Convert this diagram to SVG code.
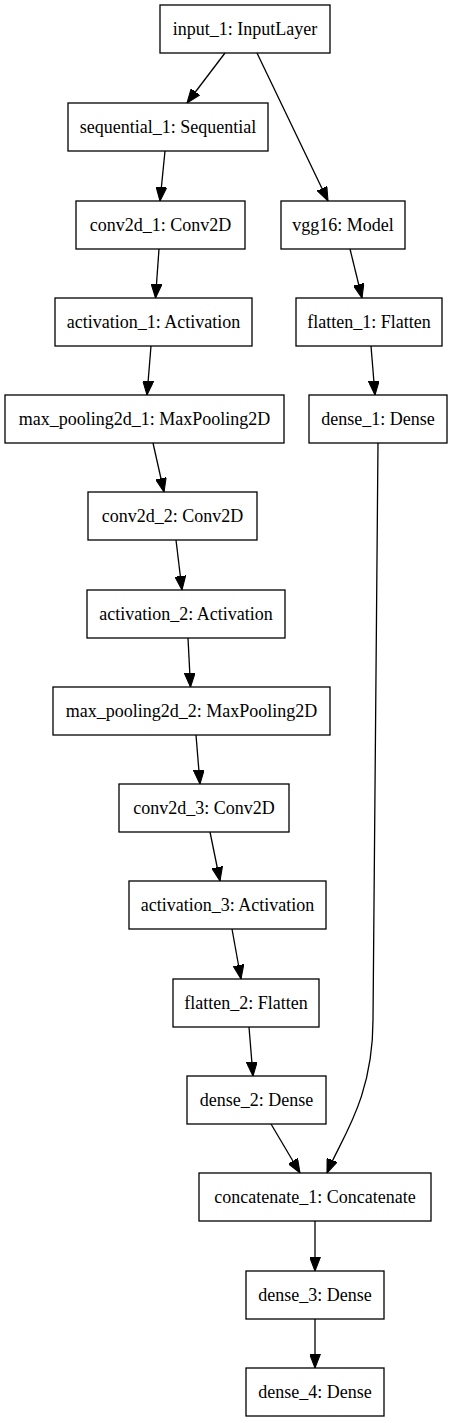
<svg xmlns="http://www.w3.org/2000/svg" width="453" height="1423" viewBox="0 0 453 1423">
<style>
.n rect{fill:#fff;stroke:#000;stroke-width:1.3}
.n text{font-family:"Liberation Serif","Times New Roman",serif;font-size:18px;text-anchor:middle;fill:#000}
.e path{fill:none;stroke:#000;stroke-width:1.3;marker-end:url(#ah)}
</style>
<defs>
<marker id="ah" markerUnits="userSpaceOnUse" markerWidth="14" markerHeight="11" viewBox="0 0 13 10" refX="13" refY="5" orient="auto">
<path d="M0,0 L13,5 L0,10 z" fill="#000" stroke="#000" stroke-width="1"/>
</marker>
</defs>
<rect width="453" height="1423" fill="#fff"/>
<g id="input_1" class="n"><rect x="160" y="5" width="170" height="48"/><text x="245" y="35">input_1: InputLayer</text></g>
<g id="sequential_1" class="n"><rect x="68" y="103" width="200" height="48"/><text x="168" y="133">sequential_1: Sequential</text></g>
<g id="conv2d_1" class="n"><rect x="76" y="201" width="169" height="48"/><text x="160.5" y="231">conv2d_1: Conv2D</text></g>
<g id="activation_1" class="n"><rect x="55" y="298" width="197" height="48"/><text x="153.5" y="328">activation_1: Activation</text></g>
<g id="max_pooling2d_1" class="n"><rect x="5" y="395" width="279" height="48"/><text x="144.5" y="425">max_pooling2d_1: MaxPooling2D</text></g>
<g id="conv2d_2" class="n"><rect x="88" y="492" width="169" height="48"/><text x="172.5" y="522">conv2d_2: Conv2D</text></g>
<g id="activation_2" class="n"><rect x="87" y="590" width="198" height="48"/><text x="186" y="620">activation_2: Activation</text></g>
<g id="max_pooling2d_2" class="n"><rect x="53" y="687" width="277" height="48"/><text x="191.5" y="717">max_pooling2d_2: MaxPooling2D</text></g>
<g id="conv2d_3" class="n"><rect x="119" y="784" width="170" height="48"/><text x="204" y="814">conv2d_3: Conv2D</text></g>
<g id="activation_3" class="n"><rect x="129" y="881" width="197" height="48"/><text x="227.5" y="911">activation_3: Activation</text></g>
<g id="flatten_2" class="n"><rect x="173" y="979" width="146" height="48"/><text x="246" y="1009">flatten_2: Flatten</text></g>
<g id="dense_2" class="n"><rect x="187" y="1076" width="139" height="48"/><text x="256.5" y="1106">dense_2: Dense</text></g>
<g id="vgg16" class="n"><rect x="281" y="201" width="124" height="48"/><text x="343" y="231">vgg16: Model</text></g>
<g id="flatten_1" class="n"><rect x="296" y="298" width="146" height="48"/><text x="369" y="328">flatten_1: Flatten</text></g>
<g id="dense_1" class="n"><rect x="309" y="395" width="138" height="48"/><text x="378" y="425">dense_1: Dense</text></g>
<g id="concatenate_1" class="n"><rect x="199" y="1173" width="232" height="48"/><text x="315" y="1203">concatenate_1: Concatenate</text></g>
<g id="dense_3" class="n"><rect x="246" y="1271" width="138" height="48"/><text x="315" y="1301">dense_3: Dense</text></g>
<g id="dense_4" class="n"><rect x="246" y="1368" width="138" height="48"/><text x="315" y="1398">dense_4: Dense</text></g>
<g id="connectors" class="e">
<path d="M225,53 L187,103"/>
<path d="M257,53 L328,201"/>
<path d="M165,151 L160,201"/>
<path d="M159,249 L155.5,298"/>
<path d="M151,346 L147,395"/>
<path d="M153,443 L164,492"/>
<path d="M176,540 L182,590"/>
<path d="M188,638 L190.5,687"/>
<path d="M196,735 L200,784"/>
<path d="M210,832 L220,881"/>
<path d="M232,929 L241,979"/>
<path d="M249,1027 L253,1076"/>
<path d="M271,1124 L300,1173"/>
<path d="M350,249 L362,298"/>
<path d="M371,346 L375,395"/>
<path d="M378,443 C376,700 373,900 373,1020 C373,1100 340,1140 327,1173"/>
<path d="M315,1221 L315,1271"/>
<path d="M315,1319 L315,1368"/>
</g>
</svg>
